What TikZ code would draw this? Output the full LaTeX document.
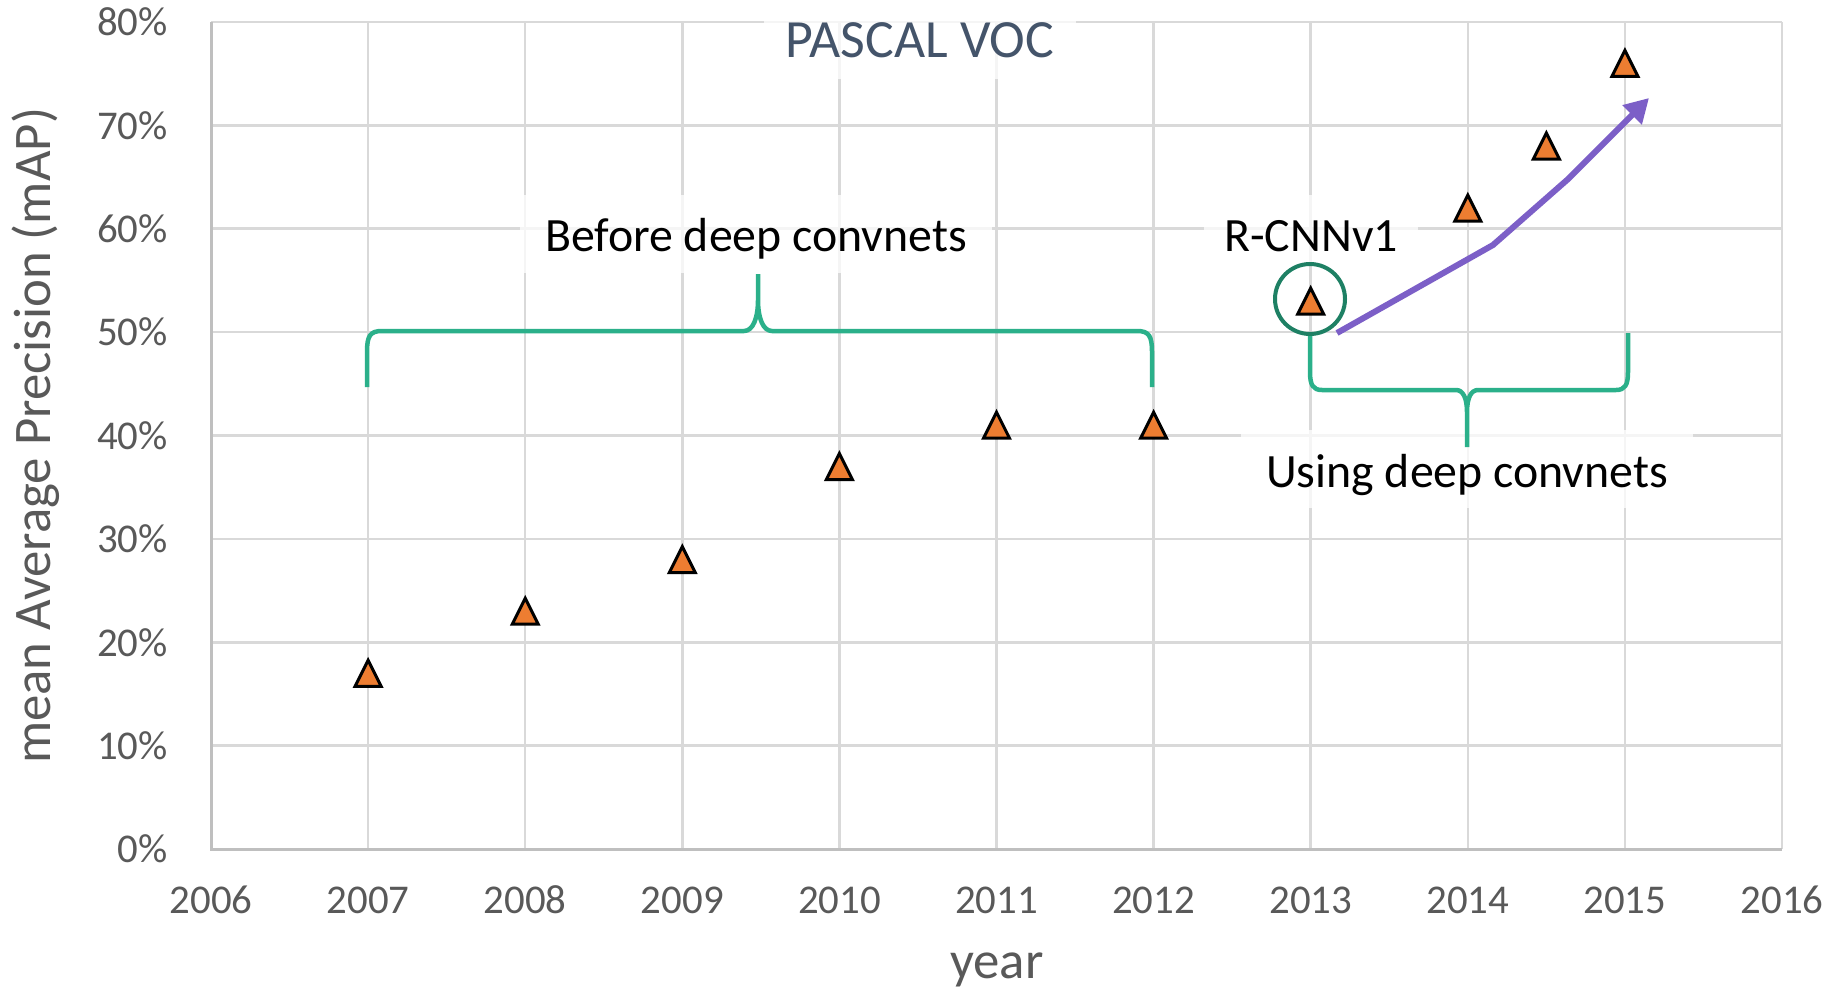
\documentclass[tikz,border=0pt]{standalone}
\usepackage{fontspec}
\setmainfont{Carlito}
\usetikzlibrary{arrows.meta}

\definecolor{gridgray}{HTML}{D9D9D9}
\definecolor{axisgray}{HTML}{BFBFBF}
\definecolor{tickgray}{HTML}{595959}
\definecolor{titleblue}{HTML}{44546A}
\definecolor{markerorange}{HTML}{ED7D31}
\definecolor{bracegreen}{HTML}{2BB08A}
\definecolor{circlegreen}{HTML}{1E8064}
\definecolor{trendpurple}{HTML}{7C5FC7}

\tikzset{
  gridline/.style={draw=gridgray, line width=2.5bp},
  axisline/.style={draw=axisgray, line width=3bp},
  ticklabel/.style={text=tickgray, font=\fontsize{41}{49}\selectfont, inner sep=0pt},
  axistitle/.style={text=tickgray, font=\fontsize{53}{63}\selectfont, inner sep=0pt},
  labelbox/.style={fill=white, fill opacity=0.75, text opacity=1, text=black,
    font=\fontsize{48}{57}\selectfont, anchor=base},
  bracepath/.style={draw=bracegreen, line width=4.5bp, line join=round},
  trendarrow/.style={draw=trendpurple, line width=6bp, line join=round,
    -{Triangle[length=24bp, width=26bp]}},
  tripoint/.pic={\draw[fill=markerorange, draw=black, line width=3bp]
    (-13bp,-13bp) -- (13bp,-13bp) -- (0bp,13bp) -- cycle;}
}

\begin{document}
\begin{tikzpicture}[x=1bp, y=-1bp]
\useasboundingbox (0,0) rectangle (1837,990);
\fill[white] (0,0) rectangle (1837,990);

% plot area: one unit = one year horizontally, one percent vertically
\begin{scope}[shift={(211,849)}, x=157.1bp, y=10.3375bp]
  \foreach \k in {1,...,10} \draw[gridline] (\k,0) -- (\k,80);
  \foreach \v in {10,20,...,80} \draw[gridline] (0,\v) -- (10,\v);
  \draw[axisline] (0,80) -- (0,0) -- (10,0);
  \foreach \v in {0,10,...,80}
    \node[ticklabel, anchor=east, xshift=-43bp] (yt\v) at (0,\v) {\v\%};
  \foreach \k [evaluate=\k as \yr using int(2006+\k)] in {0,...,10}
    \node[ticklabel, anchor=base, yshift=-64bp] (xt\k) at (\k,0) {\yr};
  \coordinate (d2007) at (1,17);
  \coordinate (d2008) at (2,23);
  \coordinate (d2009) at (3,28);
  \coordinate (d2010) at (4,37);
  \coordinate (d2011) at (5,41);
  \coordinate (d2012) at (6,41);
  \coordinate (d2013) at (7,53);
  \coordinate (d2014) at (8,62);
  \coordinate (d2014h) at (8.5,68);
  \coordinate (d2015) at (9,76);
\end{scope}

% axis titles
\node[axistitle, rotate=90, anchor=base] (ylab) at (50,436) {mean Average Precision (mAP)};
\node[axistitle, anchor=base] (xlab) at (997,978) {year};

% text boxes
\node[labelbox, text=titleblue, font=\fontsize{54}{64}\selectfont,
  text height=44bp, text depth=12bp, inner xsep=22bp, inner ysep=10bp]
  (title) at (920,57) {PASCAL VOC};
\node[labelbox, text height=46bp, text depth=12bp, inner xsep=25bp, inner ysep=10bp]
  (before) at (756,251) {Before deep convnets};
\node[labelbox, text height=46bp, text depth=2bp, inner xsep=20bp, inner ysep=10bp]
  (rcnnlab) at (1311,251) {R-CNNv1};
\node[labelbox, text height=47bp, text depth=11bp, inner xsep=25bp, inner ysep=10bp]
  (using) at (1467,487) {Using deep convnets};

% brace over the years before deep convnets
\draw[bracepath]
  (367,387) -- (367,352) .. controls (367,336) and (370,331) .. (382,331)
  -- (744,331) .. controls (753,331) and (758,318) .. (758,300) -- (758,274)
  (758,300) .. controls (758,318) and (763,331) .. (772,331)
  -- (1137,331) .. controls (1149,331) and (1152,336) .. (1152,352) -- (1152,387);

% circle around the first R-CNN result
\node[circle, draw=circlegreen, line width=4bp, minimum size=70bp, inner sep=0pt]
  (rcnn) at (1310,299) {};

% brace under the years using deep convnets
\draw[bracepath]
  (rcnn.south) -- (1310,372) .. controls (1310,385) and (1313,390) .. (1322,390)
  -- (1456,390) .. controls (1463,390) and (1467,398) .. (1467,412) -- (1467,447)
  (1467,412) .. controls (1467,398) and (1471,390) .. (1478,390)
  -- (1616,390) .. controls (1625,390) and (1628,385) .. (1628,372) -- (1628,333);

% trend arrow
\coordinate (tr0) at (1337,333);
\coordinate (tr1) at (1493,245);
\coordinate (tr2) at (1567,180);
\coordinate (tr3) at (1649,98);
\draw[trendarrow] (tr0) -- (tr1) -- (tr2) -- (tr3);

% data markers
\foreach \p in {2007,2008,2009,2010,2011,2012,2013,2014,2014h,2015}
  \pic at (d\p) {tripoint};
\end{tikzpicture}
\end{document}
